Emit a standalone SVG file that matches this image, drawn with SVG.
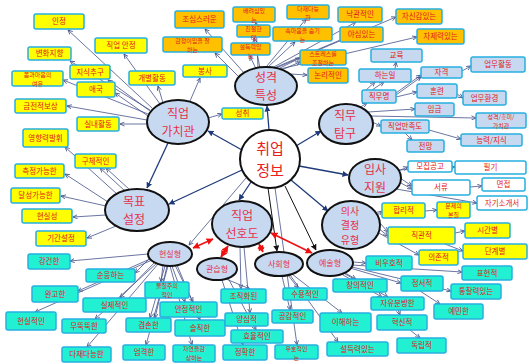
<svg xmlns="http://www.w3.org/2000/svg" width="529" height="364" viewBox="0 0 529 364">
<defs>
<marker id="a" viewBox="0 0 6 6" markerWidth="5" markerHeight="5" refX="5.5" refY="3" orient="auto" markerUnits="userSpaceOnUse"><path d="M0,0.5 L5.5,3 L0,5.5" fill="none" stroke="#44528a" stroke-width="1"/></marker>
<marker id="am" viewBox="0 0 6 6" markerWidth="6" markerHeight="6" refX="5.5" refY="3" orient="auto" markerUnits="userSpaceOnUse"><path d="M0,0 L6,3 L0,6 Z" fill="#1f3a7a"/></marker>
<marker id="ak" viewBox="0 0 6 6" markerWidth="6" markerHeight="6" refX="5.5" refY="3" orient="auto" markerUnits="userSpaceOnUse"><path d="M0,0 L6,3 L0,6 Z" fill="#111"/></marker>
<marker id="ar" viewBox="0 0 6 6" markerWidth="7" markerHeight="7" refX="5.5" refY="3" orient="auto-start-reverse" markerUnits="userSpaceOnUse"><path d="M0,0 L6,3 L0,6 Z" fill="#f01010"/></marker>
</defs>
<style>
.c{stroke:#44528a;stroke-width:0.8;fill:none;marker-end:url(#a)}
.m{stroke:#1f3a7a;stroke-width:1.3;fill:none;marker-end:url(#am)}
.k{stroke:#111;stroke-width:1;fill:none;marker-end:url(#ak)}
.r{stroke:#f01010;stroke-width:1.6;fill:none;marker-start:url(#ar);marker-end:url(#ar)}
rect{rx:2px;stroke:#26b0e0;stroke-width:1.5}
.y{fill:#ffff00}
.o{fill:#ffc000}
.b{fill:#c6d9f1}
.w{fill:#ffffff}
.t{fill:#22f0d2}
.e{fill:#c6d9f1;stroke:#111;stroke-width:2}
.e0{fill:#ffffff;stroke:#111;stroke-width:2}
text{font-family:"Noto Sans CJK KR","Noto Sans",sans-serif;fill:#e02020;text-anchor:middle;font-size:7.5px}
.s{font-size:6px}
.L{font-size:12px;fill:#e8304a}
.X{font-size:15px;fill:#e82020}
.M{font-size:8px;fill:#e8304a}
.P{font-size:10px;fill:#e8304a}
</style>
<g id="connectors">
<path class="m" d="M269,130 L267,106"/>
<path class="m" d="M242,150 L208,131"/>
<path class="m" d="M296,146 L321,131"/>
<path class="m" d="M299,166 L348,175"/>
<path class="m" d="M291,180 L328,211"/>
<path class="m" d="M251,182 L239,200"/>
<path class="m" d="M242,170 L169,204"/>
<path class="m" d="M168,143 L147,188"/>
<path class="c" d="M246,178 L189,245"/>
<path class="k" d="M268,188 L277,251"/>
<path class="k" d="M285,186 L316,250"/>
<path class="c" d="M275,188 L297,345"/>
<path class="r" d="M193,248 L213,239"/>
<path class="r" d="M228,246 L221,257"/>
<path class="r" d="M259,244 L263,252"/>
<path class="r" d="M271,233 L312,253"/>
<path class="c" d="M152,108 L68,30"/>
<path class="c" d="M160,104 L124,54"/>
<path class="c" d="M150,110 L70,61"/>
<path class="c" d="M150,111 L108,80"/>
<path class="c" d="M148,114 L63,80"/>
<path class="c" d="M148,116 L115,93"/>
<path class="c" d="M163,103 L158,86"/>
<path class="c" d="M147,120 L67,106"/>
<path class="c" d="M147,124 L120,124"/>
<path class="c" d="M190,101 L200,78"/>
<path class="c" d="M208,118 L222,114"/>
<path class="c" d="M117,194 L65,147"/>
<path class="c" d="M125,191 L100,168"/>
<path class="c" d="M130,190 L106,168"/>
<path class="c" d="M108,202 L65,174"/>
<path class="c" d="M106,206 L61,196"/>
<path class="c" d="M106,215 L73,217"/>
<path class="c" d="M116,226 L87,238"/>
<path class="c" d="M245,74 L205,29"/>
<path class="c" d="M240,78 L215,53"/>
<path class="c" d="M258,68 L256,22"/>
<path class="c" d="M260,68 L254,38"/>
<path class="c" d="M256,69 L250,56"/>
<path class="c" d="M266,67 L306,19"/>
<path class="c" d="M268,67 L295,42"/>
<path class="c" d="M272,68 L356,22"/>
<path class="c" d="M274,68 L345,38"/>
<path class="c" d="M278,69 L300,58"/>
<path class="c" d="M279,71 L300,62"/>
<path class="c" d="M290,74 L307,75"/>
<path class="c" d="M276,68 L396,17"/>
<path class="c" d="M280,69 L417,37"/>
<path class="c" d="M359,108 L367,103"/>
<path class="c" d="M366,90 L375,82"/>
<path class="c" d="M372,90 L384,82"/>
<path class="c" d="M395,69 L396,62"/>
<path class="c" d="M396,93 L421,75"/>
<path class="c" d="M396,95 L421,77"/>
<path class="c" d="M396,97 L417,92"/>
<path class="c" d="M462,71 L471,66"/>
<path class="c" d="M457,94 L463,98"/>
<path class="c" d="M368,112 L415,109"/>
<path class="c" d="M370,116 L476,118"/>
<path class="c" d="M372,122 L381,126"/>
<path class="c" d="M405,133 L412,140"/>
<path class="c" d="M429,130 L461,139"/>
<path class="c" d="M398,171 L408,167"/>
<path class="c" d="M398,170 L455,167"/>
<path class="c" d="M400,178 L412,186"/>
<path class="c" d="M399,182 L412,189"/>
<path class="c" d="M470,187 L482,186"/>
<path class="c" d="M396,189 L477,203"/>
<path class="c" d="M377,215 L382,211"/>
<path class="c" d="M379,222 L388,232"/>
<path class="c" d="M378,228 L388,236"/>
<path class="c" d="M425,211 L437,210"/>
<path class="c" d="M455,233 L465,231"/>
<path class="c" d="M445,244 L463,251"/>
<path class="c" d="M377,232 L419,255"/>
<path class="c" d="M148,254 L70,261"/>
<path class="c" d="M150,258 L135,273"/>
<path class="c" d="M150,259 L78,291"/>
<path class="c" d="M152,260 L35,312"/>
<path class="c" d="M155,262 L120,298"/>
<path class="c" d="M157,263 L95,319"/>
<path class="c" d="M158,264 L87,347"/>
<path class="c" d="M163,265 L161,282"/>
<path class="c" d="M165,266 L150,318"/>
<path class="c" d="M167,266 L155,318"/>
<path class="c" d="M168,266 L146,345"/>
<path class="c" d="M172,266 L185,302"/>
<path class="c" d="M175,265 L193,302"/>
<path class="c" d="M177,265 L200,320"/>
<path class="c" d="M170,266 L192,345"/>
<path class="c" d="M226,279 L250,289"/>
<path class="c" d="M240,247 L241,289"/>
<path class="c" d="M244,247 L250,313"/>
<path class="c" d="M228,278 L256,330"/>
<path class="c" d="M222,280 L243,345"/>
<path class="c" d="M288,275 L298,288"/>
<path class="c" d="M282,276 L290,310"/>
<path class="c" d="M292,274 L342,313"/>
<path class="c" d="M290,275 L338,342"/>
<path class="c" d="M353,262 L366,263"/>
<path class="c" d="M345,273 L356,279"/>
<path class="c" d="M350,268 L401,283"/>
<path class="c" d="M352,265 L462,272"/>
<path class="c" d="M352,267 L451,291"/>
<path class="c" d="M345,274 L388,297"/>
<path class="c" d="M343,275 L382,297"/>
<path class="c" d="M420,291 L440,304"/>
<path class="c" d="M398,310 L400,315"/>
<path class="c" d="M410,330 L420,338"/>
</g>
<g id="e0"><ellipse class="e0" cx="270" cy="159" rx="30" ry="29"/><text class="X"><tspan x="270" y="154">취업</tspan><tspan x="270" y="176">정보</tspan></text></g>
<g id="e1"><ellipse class="e" cx="266" cy="86" rx="31" ry="19"/><text class="L"><tspan x="266" y="82">성격</tspan><tspan x="266" y="99.5">특성</tspan></text></g>
<g id="e2"><ellipse class="e" cx="178" cy="122" rx="31" ry="22"/><text class="L"><tspan x="178" y="118">직업</tspan><tspan x="178" y="135.5">가치관</tspan></text></g>
<g id="e3"><ellipse class="e" cx="346" cy="124" rx="27" ry="20"/><text class="L"><tspan x="345" y="120">직무</tspan><tspan x="345" y="137.5">탐구</tspan></text></g>
<g id="e4"><ellipse class="e" cx="375" cy="178" rx="26" ry="19"/><text class="L"><tspan x="375" y="174">입사</tspan><tspan x="375" y="191.5">지원</tspan></text></g>
<g id="e5"><ellipse class="e" cx="351" cy="225" rx="29" ry="24"/><text class="P"><tspan x="350" y="214.5">의사</tspan><tspan x="350" y="229.2">결정</tspan><tspan x="350" y="243.9">유형</tspan></text></g>
<g id="e6"><ellipse class="e" cx="137" cy="210" rx="32" ry="21"/><text class="L"><tspan x="134" y="206">목표</tspan><tspan x="134" y="223.5">설정</tspan></text></g>
<g id="e7"><ellipse class="e" cx="242" cy="224" rx="30" ry="23"/><text class="L"><tspan x="242" y="220">직업</tspan><tspan x="242" y="237.5">선호도</tspan></text></g>
<g id="e8"><ellipse class="e" cx="170" cy="254" rx="22" ry="12"/><text class="M" x="170" y="257">현실형</text></g>
<g id="e9"><ellipse class="e" cx="217" cy="269" rx="20" ry="11"/><text class="M" x="217" y="272">관습형</text></g>
<g id="e10"><ellipse class="e" cx="279" cy="264" rx="24" ry="12"/><text class="M" x="279" y="267">사회형</text></g>
<g id="e11"><ellipse class="e" cx="330" cy="263" rx="23" ry="13"/><text class="M" x="330" y="266">예술형</text></g>
<g id="y1"><rect class="y" x="34" y="14" width="50" height="15"/><text x="59" y="24.2">인정</text></g>
<g id="y2"><rect class="y" x="95" y="38" width="52" height="15"/><text x="121" y="48.2">직업 안정</text></g>
<g id="y3"><rect class="y" x="28" y="47" width="43" height="13"/><text x="49.5" y="56.2">변화지향</text></g>
<g id="y4"><rect class="y" x="70" y="65" width="40" height="14"/><text x="90" y="74.7">지식추구</text></g>
<g id="y5"><rect class="y" x="129" y="71" width="46" height="14"/><text x="152" y="80.7">개별활동</text></g>
<g id="y6"><rect class="y" x="12" y="71" width="51" height="15"/><text class="s"><tspan x="37.5" y="77.2">몸과마음의</tspan><tspan x="37.5" y="86">여유</tspan></text></g>
<g id="y7"><rect class="y" x="77" y="82" width="38" height="15"/><text x="96" y="92.2">애국</text></g>
<g id="y8"><rect class="y" x="15" y="99" width="51" height="14"/><text x="40.5" y="108.7">금전적보상</text></g>
<g id="y9"><rect class="y" x="77" y="117" width="42" height="14"/><text x="98" y="126.7">실내활동</text></g>
<g id="y10"><rect class="y" x="23" y="129" width="45" height="18"/><text x="45.5" y="140.7">영향력발휘</text></g>
<g id="y11"><rect class="y" x="75" y="154" width="41" height="14"/><text x="95.5" y="163.7">구체적인</text></g>
<g id="y12"><rect class="y" x="15" y="164" width="49" height="14"/><text x="39.5" y="173.7">측정가능한</text></g>
<g id="y13"><rect class="y" x="11" y="188" width="49" height="15"/><text x="35.5" y="198.2">달성가능한</text></g>
<g id="y14"><rect class="y" x="22" y="209" width="50" height="14"/><text x="47" y="218.7">현실성</text></g>
<g id="y15"><rect class="y" x="36" y="231" width="50" height="15"/><text x="61" y="241.2">기간설정</text></g>
<g id="y16"><rect class="y" x="183" y="65" width="44" height="12"/><text x="205" y="73.7">봉사</text></g>
<g id="y17"><rect class="y" x="222" y="108" width="41" height="11"/><text x="242.5" y="116.2">성취</text></g>
<g id="y18"><rect class="y" x="382" y="203" width="43" height="15"/><text x="403.5" y="213.2">합리적</text></g>
<g id="y19"><rect class="y" x="437" y="202" width="33" height="16"/><text class="s"><tspan x="453.5" y="208.2">문제의</tspan><tspan x="453.5" y="217">본질</tspan></text></g>
<g id="y20"><rect class="y" x="388" y="227" width="67" height="17"/><text x="421.5" y="238.2">직관적</text></g>
<g id="y21"><rect class="y" x="465" y="223" width="45" height="15"/><text x="487.5" y="233.2">시간별</text></g>
<g id="y22"><rect class="y" x="419" y="250" width="39" height="15"/><text x="438.5" y="260.2">의존적</text></g>
<g id="y23"><rect class="y" x="463" y="244" width="64" height="15"/><text x="495" y="254.2">단계별</text></g>
<g id="o1"><rect class="o" x="175" y="11" width="49" height="17"/><text x="199.5" y="22.2">조심스러운</text></g>
<g id="o2"><rect class="o" x="163" y="37" width="59" height="15"/><text class="s"><tspan x="192.5" y="43.2">감정이입을 잘</tspan><tspan x="192.5" y="52">하는</tspan></text></g>
<g id="o3"><rect class="o" x="233" y="7" width="42" height="15"/><text class="s"><tspan x="254" y="13.2">배려심있</tspan><tspan x="254" y="22">는</tspan></text></g>
<g id="o4"><rect class="o" x="237" y="25" width="33" height="12"/><text class="s"><tspan x="253.5" y="31.2">친절한</tspan><tspan x="253.5" y="40">태</tspan></text></g>
<g id="o5"><rect class="o" x="231" y="43" width="39" height="12"/><text class="s"><tspan x="250.5" y="49.2">설득력있</tspan><tspan x="250.5" y="58">는</tspan></text></g>
<g id="o6"><rect class="o" x="287" y="5" width="42" height="14"/><text class="s"><tspan x="308" y="11.2">다재다능</tspan><tspan x="308" y="20">한</tspan></text></g>
<g id="o7"><rect class="o" x="273" y="27" width="59" height="14"/><text class="s"><tspan x="302.5" y="33.2">속마음을 숨기</tspan><tspan x="302.5" y="42">는</tspan></text></g>
<g id="o8"><rect class="o" x="338" y="7" width="44" height="15"/><text x="360" y="17.2">낙관적인</text></g>
<g id="o9"><rect class="o" x="340" y="27" width="43" height="15"/><text x="361.5" y="37.2">야심있는</text></g>
<g id="o10"><rect class="o" x="300" y="50" width="46" height="15"/><text class="s"><tspan x="323" y="56.2">스트레스를</tspan><tspan x="323" y="65">조절하는</tspan></text></g>
<g id="o11"><rect class="o" x="308" y="68" width="40" height="15"/><text x="328" y="78.2">논리적인</text></g>
<g id="o12"><rect class="o" x="396" y="9" width="46" height="15"/><text x="419" y="19.2">자신감있는</text></g>
<g id="o13"><rect class="o" x="417" y="29" width="47" height="15"/><text x="440.5" y="39.2">자제력있는</text></g>
<g id="b1"><rect class="b" x="371" y="49" width="51" height="13"/><text x="396.5" y="58.2">교육</text></g>
<g id="b2"><rect class="b" x="359" y="69" width="52" height="13"/><text x="385" y="78.2">하는일</text></g>
<g id="b3"><rect class="b" x="421" y="67" width="41" height="11"/><text x="441.5" y="75.2">자격</text></g>
<g id="b4"><rect class="b" x="471" y="57" width="54" height="15"/><text x="498" y="67.2">업무활동</text></g>
<g id="b5"><rect class="b" x="362" y="90" width="34" height="13"/><text x="379" y="99.2">직무명</text></g>
<g id="b6"><rect class="b" x="417" y="84" width="40" height="14"/><text x="437" y="93.7">훈련</text></g>
<g id="b7"><rect class="b" x="463" y="91" width="43" height="14"/><text x="484.5" y="100.7">업무환경</text></g>
<g id="b8"><rect class="b" x="415" y="103" width="39" height="13"/><text x="434.5" y="112.2">임금</text></g>
<g id="b9"><rect class="b" x="476" y="113" width="50" height="15"/><text class="s"><tspan x="501" y="119.2">성격/흥미/</tspan><tspan x="501" y="128">가치관</tspan></text></g>
<g id="b10"><rect class="b" x="381" y="120" width="48" height="13"/><text x="405" y="129.2">직업만족도</text></g>
<g id="b11"><rect class="b" x="407" y="140" width="37" height="12"/><text x="425.5" y="148.7">전망</text></g>
<g id="b12"><rect class="b" x="461" y="134" width="61" height="12"/><text x="491.5" y="142.7">능력/지식</text></g>
<g id="w1"><rect class="w" x="408" y="161" width="44" height="11"/><text x="430" y="169.2">모집공고</text></g>
<g id="w2"><rect class="w" x="455" y="161" width="71" height="13"/><text x="490.5" y="170.2">필기</text></g>
<g id="w3"><rect class="w" x="412" y="180" width="58" height="15"/><text x="441" y="190.2">서류</text></g>
<g id="w4"><rect class="w" x="482" y="178" width="43" height="13"/><text x="503.5" y="187.2">면접</text></g>
<g id="w5"><rect class="w" x="477" y="196" width="50" height="14"/><text x="502" y="205.7">자기소개서</text></g>
<g id="t1"><rect class="t" x="28" y="254" width="42" height="15"/><text x="49" y="264.2">강건한</text></g>
<g id="t2"><rect class="t" x="86" y="269" width="49" height="13"/><text x="110.5" y="278.2">순응하는</text></g>
<g id="t3"><rect class="t" x="32" y="286" width="46" height="16"/><text x="55" y="296.7">완고한</text></g>
<g id="t4"><rect class="t" x="6" y="312" width="50" height="18"/><text x="31" y="323.7">현실적인</text></g>
<g id="t5"><rect class="t" x="83" y="298" width="63" height="14"/><text x="114.5" y="307.7">실제적인</text></g>
<g id="t6"><rect class="t" x="62" y="319" width="44" height="14"/><text x="84" y="328.7">무뚝뚝한</text></g>
<g id="t7"><rect class="t" x="62" y="347" width="49" height="15"/><text x="86.5" y="357.2">다재다능한</text></g>
<g id="t8"><rect class="t" x="145" y="282" width="44" height="16"/><text class="s"><tspan x="167" y="288.2">물질주의</tspan><tspan x="167" y="297">적인</tspan></text></g>
<g id="t9"><rect class="t" x="126" y="318" width="45" height="14"/><text x="148.5" y="327.7">겸손한</text></g>
<g id="t10"><rect class="t" x="123" y="345" width="42" height="15"/><text x="144" y="355.2">엄격한</text></g>
<g id="t11"><rect class="t" x="160" y="302" width="57" height="15"/><text x="188.5" y="312.2">안정적인</text></g>
<g id="t12"><rect class="t" x="175" y="320" width="50" height="16"/><text x="200" y="330.7">솔직한</text></g>
<g id="t13"><rect class="t" x="173" y="345" width="42" height="17"/><text class="s"><tspan x="194" y="351.2">자연을감</tspan><tspan x="194" y="360">상하는</tspan></text></g>
<g id="t14"><rect class="t" x="221" y="289" width="45" height="14"/><text x="243.5" y="298.7">조직화된</text></g>
<g id="t15"><rect class="t" x="225" y="313" width="43" height="13"/><text x="246.5" y="322.2">양심적</text></g>
<g id="t16"><rect class="t" x="231" y="330" width="52" height="13"/><text x="257" y="339.2">효율적인</text></g>
<g id="t17"><rect class="t" x="223" y="345" width="44" height="15"/><text x="245" y="355.2">정확한</text></g>
<g id="t18"><rect class="t" x="283" y="288" width="44" height="12"/><text x="305" y="296.7">수용적인</text></g>
<g id="t19"><rect class="t" x="272" y="310" width="41" height="13"/><text x="292.5" y="319.2">공감적인</text></g>
<g id="t20"><rect class="t" x="275" y="345" width="43" height="14"/><text class="s"><tspan x="296.5" y="351.2">우호적인</tspan><tspan x="296.5" y="360">는</tspan></text></g>
<g id="t21"><rect class="t" x="320" y="313" width="51" height="19"/><text x="345.5" y="325.2">이해하는</text></g>
<g id="t22"><rect class="t" x="327" y="342" width="61" height="14"/><text x="357.5" y="351.7">설득력있는</text></g>
<g id="t23"><rect class="t" x="333" y="279" width="54" height="13"/><text x="360" y="288.2">창의적인</text></g>
<g id="t24"><rect class="t" x="366" y="256" width="46" height="14"/><text x="389" y="265.7">비우호적</text></g>
<g id="t25"><rect class="t" x="401" y="276" width="42" height="15"/><text x="422" y="286.2">정서적</text></g>
<g id="t26"><rect class="t" x="462" y="266" width="50" height="14"/><text x="487" y="275.7">표현적</text></g>
<g id="t27"><rect class="t" x="451" y="284" width="50" height="15"/><text x="476" y="294.2">통찰력있는</text></g>
<g id="t28"><rect class="t" x="371" y="297" width="53" height="13"/><text x="397.5" y="306.2">자유분방한</text></g>
<g id="t29"><rect class="t" x="434" y="304" width="49" height="15"/><text x="458.5" y="314.2">예민한</text></g>
<g id="t30"><rect class="t" x="377" y="315" width="50" height="15"/><text x="402" y="325.2">혁신적</text></g>
<g id="t31"><rect class="t" x="397" y="338" width="49" height="15"/><text x="421.5" y="348.2">독립적</text></g>
</svg>
